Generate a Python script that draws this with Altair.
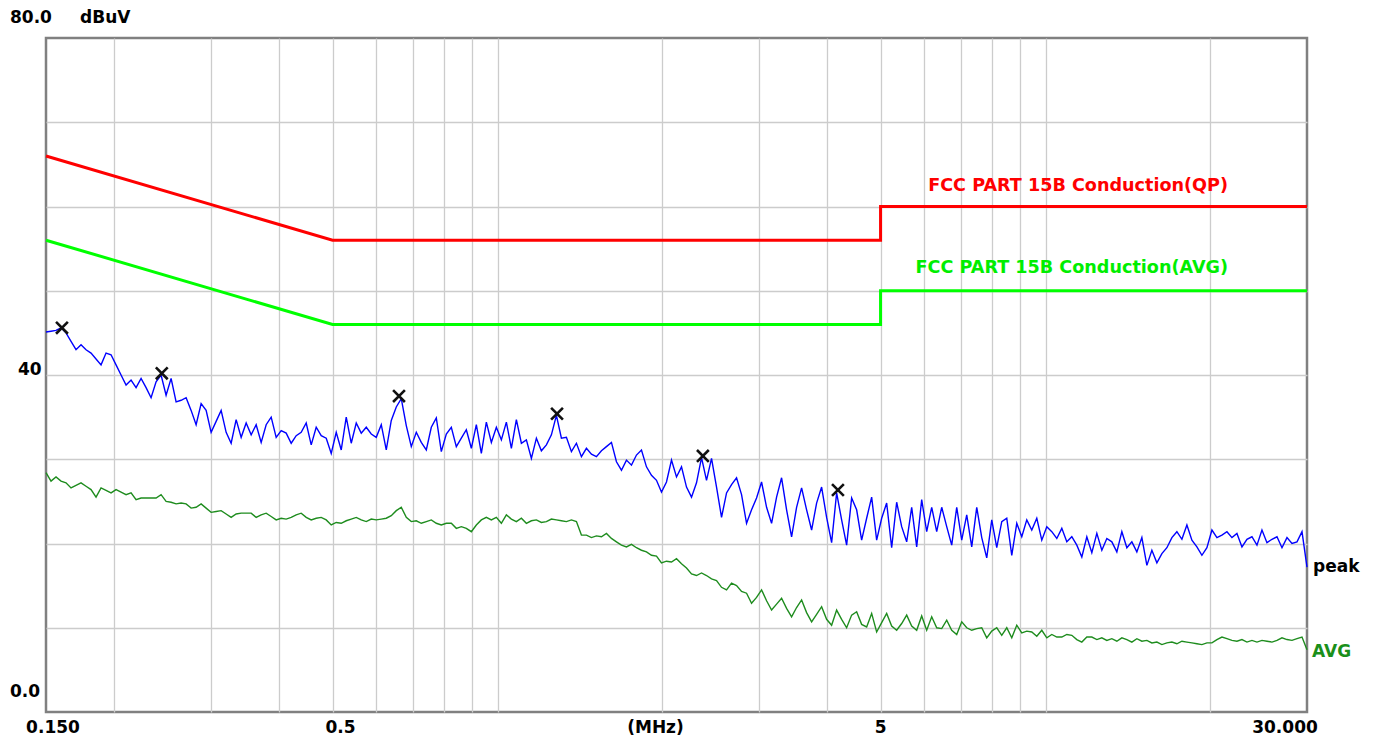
import altair as alt
import numpy as np
import pandas as pd

W, H = 1261, 674
FONT = "DejaVu Sans"

# ---- measured traces (dBuV), sweep from 0.15 to 30 MHz ----
peak_db = [
    45.1, 45.2, 45.3, 45.6, 45.0, 44.0, 43.0, 43.6, 43.0, 42.6,
    41.9, 41.2, 42.6, 42.4, 41.2, 40.0, 38.8, 39.4, 38.5, 39.6,
    38.5, 37.3, 39.2,
    40.0, 37.6, 39.6, 36.8, 37.0, 37.3, 35.8, 34.1, 36.6, 35.8,
    33.2, 34.5, 35.8, 33.2, 31.9, 34.7, 32.6, 34.3, 32.9, 34.1,
    32.0, 34.1, 35.0, 32.6, 33.4, 33.1, 31.9, 32.8, 33.2, 34.3,
    31.7, 33.8, 32.8, 32.5, 30.7, 33.2, 31.1, 35.0, 31.9, 34.3,
    33.1, 33.8, 33.0, 32.6, 34.1, 31.1, 34.6, 36.2, 37.2, 34.0,
    31.5, 33.2, 32.0, 31.1, 33.8, 34.9, 30.9, 33.0, 33.8, 31.5,
    32.5, 33.5, 31.3, 34.1, 30.7, 34.4, 32.0, 33.8, 32.3, 34.4,
    31.3, 34.7, 31.9, 32.3, 30.1, 32.5, 31.0, 31.7, 32.9, 35.2,
    32.5, 32.6, 30.9, 31.9, 30.3, 31.3, 30.6, 30.3, 31.0, 31.5,
    32.0, 29.7, 28.7, 29.9, 29.3, 30.5, 31.1,
    29.1, 28.1, 27.5, 26.1, 27.3, 29.9, 27.9, 29.1, 26.7, 25.5,
    27.2, 30.2, 27.5, 30.1, 26.7, 23.1, 26.0, 27.0, 27.8, 25.8,
    22.4, 24.0, 25.4, 27.3, 24.3, 22.4, 25.5, 27.8, 24.0, 20.8,
    24.3, 26.6, 24.0, 21.6, 24.8, 26.7, 23.1, 20.1, 26.0, 22.8,
    19.8, 25.4, 24.0, 20.4, 23.0, 25.5, 20.4, 23.0, 24.8, 19.5,
    24.9, 22.0, 20.2, 24.3, 19.6, 25.2, 21.4, 24.3, 21.4, 24.3,
    22.0, 19.8, 24.3, 20.4, 23.4, 19.6, 24.3, 20.7, 18.3, 22.8,
    19.5, 22.6, 23.0, 18.6, 22.4, 20.8, 22.8, 21.6, 23.0, 20.4,
    22.0, 21.4, 20.6, 21.8, 20.2, 20.8, 19.8, 18.4, 20.8, 18.9,
    21.2, 19.2, 20.6, 20.2, 19.0, 21.4, 19.5, 20.2, 19.0, 20.7,
    17.4, 19.2, 17.7, 18.8, 19.5, 20.7, 21.4, 20.5, 22.2, 20.4,
    19.6, 18.6, 19.5, 21.6, 20.7, 21.0, 21.4, 20.7, 21.2, 19.6,
    20.5, 20.8, 19.8, 21.6, 20.1, 20.5, 20.8, 19.5, 20.7, 20.0,
    20.2, 21.4, 17.2,
]

avg_db = [
    28.4, 27.4, 27.9, 27.4, 27.2, 26.6, 26.9, 27.2, 26.8, 26.4,
    25.5, 26.6, 26.3, 26.0, 26.4, 26.1, 25.8, 26.0, 25.2, 25.4,
    25.4, 25.4, 25.4, 25.8, 25.0, 24.9, 24.7, 24.8, 24.7, 24.2,
    24.3, 24.7, 24.2, 23.7, 23.8, 23.9, 23.5, 23.1, 23.5, 23.6,
    23.6, 23.6, 23.1, 23.4, 23.6, 23.2, 22.8, 23.0, 22.9, 23.1,
    23.4, 23.6, 23.1, 22.8, 23.0, 23.1, 22.8, 22.2, 22.5, 22.4,
    22.7, 22.9, 23.1, 22.8, 22.6, 22.9, 22.8, 22.9, 23.0, 23.3,
    23.9, 24.3, 23.1, 22.6, 22.7, 22.4, 22.6, 22.8, 22.4, 22.2,
    22.4, 22.4, 21.8, 22.0, 21.8, 21.4, 22.2, 22.8, 23.1, 22.8,
    23.1, 22.4, 23.4, 22.9, 22.6, 23.0, 22.4, 22.7, 22.8, 22.5,
    22.6, 22.9, 22.8, 22.7, 22.6, 22.8, 22.6, 21.0, 21.0, 20.7,
    20.9, 20.8, 21.2, 20.6, 20.2, 19.8, 19.6, 19.9, 19.5, 19.2,
    19.0, 18.6, 18.5, 17.7, 17.9, 17.8, 18.2, 17.6, 17.1, 16.4,
    16.2, 16.5, 16.2, 15.8, 15.6, 14.8, 14.5, 15.3, 15.0, 14.3,
    14.1, 12.9, 13.6, 14.5, 13.2, 12.1, 12.8, 13.5, 12.3, 11.3,
    12.4, 13.3, 11.8, 10.7, 11.6, 12.5, 11.0, 10.3, 12.1, 11.0,
    10.0, 11.5, 11.9, 10.4, 10.1, 11.7, 9.5, 10.6, 11.7, 10.2,
    9.7, 10.5, 11.5, 10.2, 9.7, 11.4, 9.7, 11.3, 10.0, 9.9,
    10.9, 9.7, 9.2, 10.7, 10.0, 9.7, 9.9, 10.0, 8.8, 9.6,
    10.0, 9.1, 10.0, 8.8, 10.3, 9.4, 9.6, 9.5, 9.0, 9.7,
    8.8, 9.2, 8.9, 8.9, 9.2, 9.1, 8.6, 8.3, 8.9, 8.9,
    8.6, 8.8, 8.5, 8.7, 8.4, 8.8, 8.6, 8.3, 8.7, 8.4,
    8.5, 8.2, 8.3, 8.0, 8.2, 8.3, 8.1, 8.4, 8.3, 8.2,
    8.1, 8.0, 8.2, 8.2, 8.6, 8.9, 8.7, 8.5, 8.4, 8.6,
    8.3, 8.5, 8.3, 8.5, 8.4, 8.3, 8.5, 8.8, 8.6, 8.5,
    8.7, 8.9, 7.4,
]

# ---- limit lines ----
limit_freq = [0.15, 0.5, 5.0, 5.0, 30.0]
qp_limit_db = [66, 56, 56, 60, 60]
avg_limit_db = [56, 46, 46, 50, 50]

# ---- peak markers ----
marker_freq = [0.1604, 0.244, 0.661, 1.284, 2.37, 4.18]
marker_db = [45.6, 40.2, 37.5, 35.4, 30.4, 26.35]

# ---- grid & tick labels ----
grid_x = [0.2, 0.3, 0.4, 0.5, 0.6, 0.7, 0.8, 0.9,
          1, 2, 3, 4, 5, 6, 7, 8, 9, 10, 20]
grid_y = [10, 20, 30, 40, 50, 60, 70]
x_tick_vals = [0.15, 0.5, 5, 30]
x_tick_text = ["0.150", "0.5", "5", "30.000"]
y_tick_vals = [80, 40, 0]
y_tick_text = ["80.0", "40", "0.0"]

sweep_peak = np.geomspace(0.15, 30, len(peak_db))
sweep_avg = np.geomspace(0.15, 30, len(avg_db))

xscale = alt.Scale(type="log", domain=[0.15, 30], nice=False)
yscale = alt.Scale(domain=[0, 80], nice=False, zero=False)
xaxis = alt.Axis(values=grid_x, grid=True, labels=False, ticks=False, domain=False,
                 title=None, gridColor="#cccccc", gridWidth=1.3)
yaxis = alt.Axis(values=grid_y, grid=True, labels=False, ticks=False, domain=False,
                 title=None, gridColor="#cccccc", gridWidth=1.3)


def X():
    return alt.X("f:Q", scale=xscale, axis=xaxis)


def Y():
    return alt.Y("db:Q", scale=yscale, axis=yaxis)


lim_df = pd.DataFrame({"f": limit_freq, "i": range(len(limit_freq))})
qp_df = lim_df.assign(db=qp_limit_db)
al_df = lim_df.assign(db=avg_limit_db)

qp_line = alt.Chart(qp_df).mark_line(color="#ff0000", strokeWidth=3).encode(
    x=X(), y=Y(), order="i:Q")
al_line = alt.Chart(al_df).mark_line(color="#00ff00", strokeWidth=3).encode(
    x=X(), y=Y(), order="i:Q")

peak_df = pd.DataFrame({"f": sweep_peak, "db": peak_db})
avg_df = pd.DataFrame({"f": sweep_avg, "db": avg_db})

peak_line = alt.Chart(peak_df).mark_line(color="#0000ff", strokeWidth=1.4).encode(x=X(), y=Y())
avg_line = alt.Chart(avg_df).mark_line(color="#1e8c1e", strokeWidth=1.4).encode(x=X(), y=Y())

mk_df = pd.DataFrame({"f": marker_freq, "db": marker_db})
markers = alt.Chart(mk_df).mark_point(
    shape="M-1,-1L1,1M-1,1L1,-1", filled=False, color="#111111",
    strokeWidth=2.6, size=140, opacity=1).encode(x=X(), y=Y())


def label(f, db, text, dx, dy, align="left", color="black", size=17):
    d = pd.DataFrame({"f": [f], "db": [db], "t": [text]})
    return alt.Chart(d).mark_text(
        align=align, baseline="middle", dx=dx, dy=dy, font=FONT,
        fontWeight="bold", fontSize=size, color=color).encode(
        x=X(), y=Y(), text="t:N")


labels = []
# y labels
labels.append(label(0.15, y_tick_vals[0], y_tick_text[0], -36, -20))
labels.append(label(0.15, y_tick_vals[0], "dBuV", 34, -20))
labels.append(label(0.15, y_tick_vals[1], y_tick_text[1], -28, -5))
labels.append(label(0.15, y_tick_vals[2], y_tick_text[2], -36, -20))
# x labels
x_dx = [7, 8, 0, -22]
for v, t, dx in zip(x_tick_vals, x_tick_text, x_dx):
    labels.append(label(v, 0, t, dx, 16, align="center"))
labels.append(label(2.0, 0, "(MHz)", -7, 16, align="center"))
# trace end labels
labels.append(label(30, peak_db[-1], "peak", 6, 0))
labels.append(label(30, avg_db[-1], "AVG", 5, 2, color="#1a8f1a"))
# limit labels
labels.append(label(30, 60, "FCC PART 15B Conduction(QP)", -79, -21,
                    align="right", color="#ff0000", size=17.6))
labels.append(label(30, 50, "FCC PART 15B Conduction(AVG)", -79, -23,
                    align="right", color="#00ee00", size=17.6))

chart = alt.layer(qp_line, al_line, avg_line, peak_line, markers, *labels).properties(
    width=W, height=H,
    autosize=alt.AutoSizeParams(type="none"),
    padding={"left": 38, "top": 30, "right": 58, "bottom": 26},
    background="white",
).configure_view(stroke="#808080", strokeWidth=2.5)

chart.save("out.html", embed_options={"renderer": "svg", "actions": False})
